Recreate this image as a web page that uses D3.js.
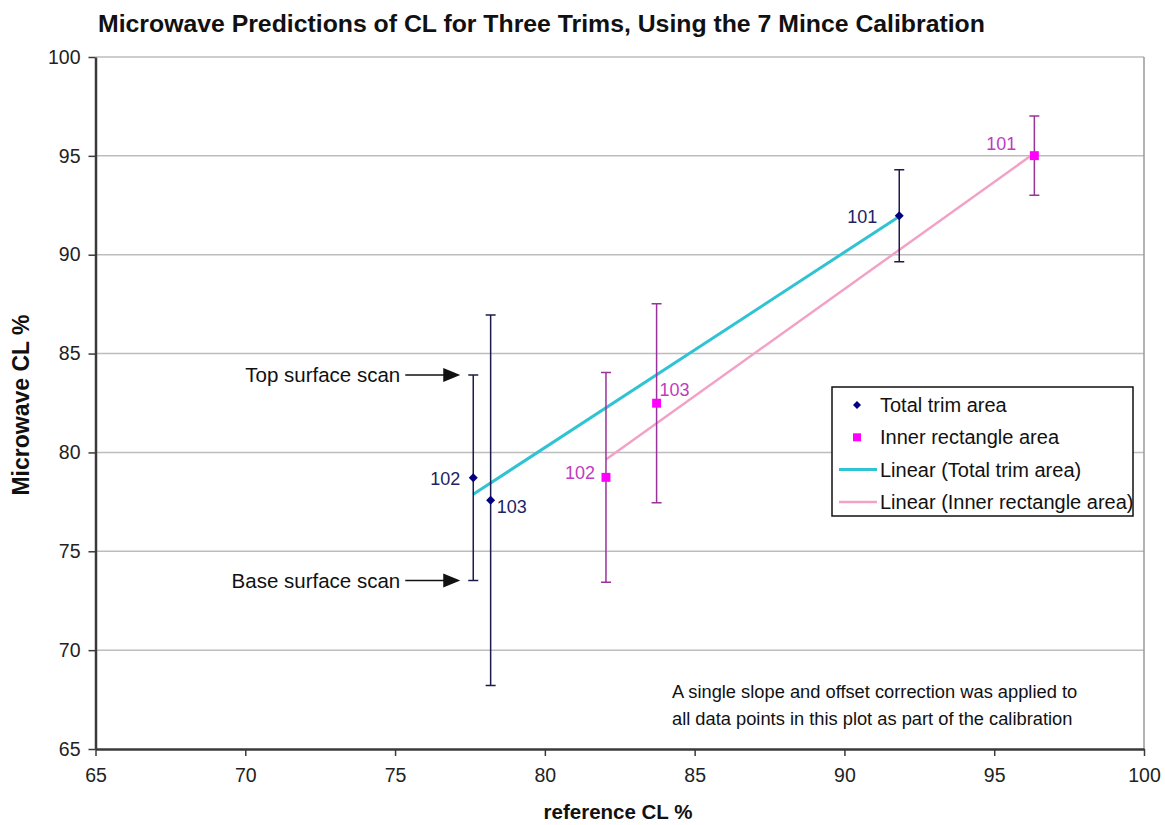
<!DOCTYPE html>
<html>
<head>
<meta charset="utf-8">
<script src="https://cdn.jsdelivr.net/npm/d3@7"></script>
<style>
body { margin: 0; background: #fff; }
text { font-family: "Liberation Sans", Arial, sans-serif; }
</style>
</head>
<body>
<div id="chart"></div>
<script>
// values
const pointLabels = ["101", "102", "103"];
const trimRef = [91.83, 77.61, 78.19];
const trimMw = [91.97, 78.72, 77.58];
const trimErr = [2.33, 5.2, 9.37];
const innerRef = [96.34, 82.04, 83.73];
const innerMw = [95.01, 78.74, 82.49];
const innerErr = [2.0, 5.3, 5.03];
const xTicks = [65, 70, 75, 80, 85, 90, 95, 100];
const yTicks = [65, 70, 75, 80, 85, 90, 95, 100];
const legendNames = ["Total trim area", "Inner rectangle area", "Linear (Total trim area)", "Linear (Inner rectangle area)"];
const scanNotes = ["Top surface scan", "Base surface scan"];
const noteLines = ["A single slope and offset correction was applied to", "all data points in this plot as part of the calibration"];

const width = 1165;
const height = 825;

const x = d3.scaleLinear().domain([65, 100]).range([95.5, 1144]);
const y = d3.scaleLinear().domain([65, 100]).range([749, 57]);

const svg = d3.select("#chart")
    .append("svg")
    .attr("width", width)
    .attr("height", height);

// least squares line, like the spreadsheet trendline
function linearFit(xs, ys) {
    const mx = d3.mean(xs), my = d3.mean(ys);
    const sxy = d3.sum(xs, (v, i) => (v - mx) * (ys[i] - my));
    const sxx = d3.sum(xs, v => (v - mx) * (v - mx));
    const slope = sxy / sxx;
    const [x0, x1] = d3.extent(xs);
    return [[x0, my + slope * (x0 - mx)], [x1, my + slope * (x1 - mx)]];
}

const series = [
    {
        name: legendNames[0], refs: trimRef, mws: trimMw, errs: trimErr,
        marker: d3.symbolSquare, markerSize: 40, rotate: 45, markerColor: "#000080",
        barColor: "#1c1c4c", labelColor: "#1e2266",
        lineColor: "#2fc3d3", lineWidth: 3,
        // label offsets from the point: dx, dy, anchor
        labelPos: [[-22, 7, "end"], [-13, 7, "end"], [6, 13, "start"]]
    },
    {
        name: legendNames[1], refs: innerRef, mws: innerMw, errs: innerErr,
        marker: d3.symbolSquare, markerSize: 80, rotate: 0, markerColor: "#ff00ff",
        barColor: "#993399", labelColor: "#c03cc0",
        lineColor: "#f2a2c6", lineWidth: 2.5,
        labelPos: [[-18, -6, "end"], [-11, 2, "end"], [3, -7, "start"]]
    }
];

// horizontal gridlines
svg.append("g")
    .selectAll("line")
    .data(yTicks.filter(t => t > 65))
    .join("line")
    .attr("x1", x(65))
    .attr("x2", x(100))
    .attr("y1", d => y(d))
    .attr("y2", d => y(d))
    .attr("stroke", "#bdbdbd")
    .attr("stroke-width", 1.5);

// right border of the plot
svg.append("line")
    .attr("x1", x(100)).attr("x2", x(100))
    .attr("y1", y(100)).attr("y2", y(65))
    .attr("stroke", "#9a9a9a")
    .attr("stroke-width", 1.5);

// axes
const xAxis = svg.append("g")
    .attr("transform", `translate(0,${y(65)})`)
    .call(d3.axisBottom(x).tickValues(xTicks).tickSize(7).tickPadding(12).tickSizeOuter(0));

const yAxis = svg.append("g")
    .attr("transform", `translate(${x(65)},0)`)
    .call(d3.axisLeft(y).tickValues(yTicks).tickSize(7).tickPadding(8).tickSizeOuter(0));

[xAxis, yAxis].forEach(ax => {
    ax.select(".domain").attr("stroke", "#3a3a3a").attr("stroke-width", 2.5);
    ax.selectAll(".tick line").attr("stroke", "#3a3a3a").attr("stroke-width", 1.5);
    ax.selectAll(".tick text")
        .style("font-family", "'Liberation Sans', Arial, sans-serif")
        .style("font-size", "19.5px")
        .attr("fill", "#222");
});

// trend lines
const line = d3.line().x(d => x(d[0])).y(d => y(d[1]));
series.forEach(s => {
    svg.append("path")
        .attr("d", line(linearFit(s.refs, s.mws)))
        .attr("fill", "none")
        .attr("stroke", s.lineColor)
        .attr("stroke-width", s.lineWidth);
});

// error bars, markers and point labels
series.forEach(s => {
    const g = svg.append("g");
    const pts = s.refs.map((r, i) => ({ r, m: s.mws[i], e: s.errs[i], label: pointLabels[i], pos: s.labelPos[i] }));

    g.selectAll(".bar")
        .data(pts)
        .join("path")
        .attr("class", "bar")
        .attr("d", d => {
            const cx = x(d.r), top = y(d.m + d.e), bot = y(d.m - d.e);
            return `M${cx},${top}V${bot}M${cx - 5},${top}H${cx + 5}M${cx - 5},${bot}H${cx + 5}`;
        })
        .attr("fill", "none")
        .attr("stroke", s.barColor)
        .attr("stroke-width", 1.5);

    g.selectAll(".marker")
        .data(pts)
        .join("path")
        .attr("class", "marker")
        .attr("transform", d => `translate(${x(d.r)},${y(d.m)}) rotate(${s.rotate})`)
        .attr("d", d3.symbol().type(s.marker).size(s.markerSize))
        .attr("fill", s.markerColor);

    g.selectAll(".plabel")
        .data(pts)
        .join("text")
        .attr("class", "plabel")
        .attr("x", d => x(d.r) + d.pos[0])
        .attr("y", d => y(d.m) + d.pos[1])
        .attr("text-anchor", d => d.pos[2])
        .attr("fill", s.labelColor)
        .style("font-size", "18px")
        .text(d => d.label);
});

// scan arrows pointing at the caps of the 102 total trim bar
const scanY = [trimMw[1] + trimErr[1], trimMw[1] - trimErr[1]];
const tipX = x(trimRef[1]) - 13;
scanNotes.forEach((t, i) => {
    const py = y(scanY[i]);
    svg.append("text")
        .attr("x", tipX - 60)
        .attr("y", py + 7)
        .attr("text-anchor", "end")
        .attr("fill", "#111")
        .style("font-size", "20.5px")
        .text(t);
    svg.append("line")
        .attr("x1", tipX - 55).attr("x2", tipX - 14)
        .attr("y1", py).attr("y2", py)
        .attr("stroke", "#111")
        .attr("stroke-width", 1.5);
    svg.append("path")
        .attr("d", `M${tipX},${py}L${tipX - 17},${py - 7}L${tipX - 17},${py + 7}Z`)
        .attr("fill", "#111");
});

// legend
const legend = svg.append("g").attr("transform", "translate(832,387)");
legend.append("rect")
    .attr("width", 301)
    .attr("height", 129)
    .attr("fill", "#fff")
    .attr("stroke", "#111")
    .attr("stroke-width", 1.5);

const legendRows = legend.selectAll(".row")
    .data(legendNames)
    .join("g")
    .attr("class", "row")
    .attr("transform", (d, i) => `translate(0,${18 + i * 32.3})`);

legendRows.append("text")
    .attr("x", 48)
    .attr("y", 7)
    .attr("fill", "#111")
    .style("font-size", "20px")
    .text(d => d);

legendRows.each(function (d, i) {
    const row = d3.select(this);
    if (i < 2) {
        row.append("path")
            .attr("transform", `translate(25,0) rotate(${series[i].rotate})`)
            .attr("d", d3.symbol().type(series[i].marker).size(series[i].markerSize * 0.8))
            .attr("fill", series[i].markerColor);
    } else {
        row.append("line")
            .attr("x1", 7).attr("x2", 45)
            .attr("stroke", series[i - 2].lineColor)
            .attr("stroke-width", series[i - 2].lineWidth);
    }
});

// calibration note
svg.append("g")
    .selectAll("text")
    .data(noteLines)
    .join("text")
    .attr("x", 672)
    .attr("y", (d, i) => 698 + i * 26.5)
    .attr("fill", "#111")
    .style("font-size", "18.3px")
    .text(d => d);

// titles
svg.append("text")
    .attr("x", 98)
    .attr("y", 32)
    .attr("fill", "#111")
    .style("font-size", "24.8px")
    .style("font-weight", "bold")
    .text("Microwave Predictions of CL for Three Trims, Using the 7 Mince Calibration");

svg.append("text")
    .attr("x", 618)
    .attr("y", 819)
    .attr("text-anchor", "middle")
    .attr("fill", "#111")
    .style("font-size", "20.5px")
    .style("font-weight", "bold")
    .text("reference CL %");

svg.append("text")
    .attr("transform", "translate(29,405) rotate(-90)")
    .attr("text-anchor", "middle")
    .attr("fill", "#111")
    .style("font-size", "23px")
    .style("font-weight", "bold")
    .text("Microwave CL %");
</script>
</body>
</html>
